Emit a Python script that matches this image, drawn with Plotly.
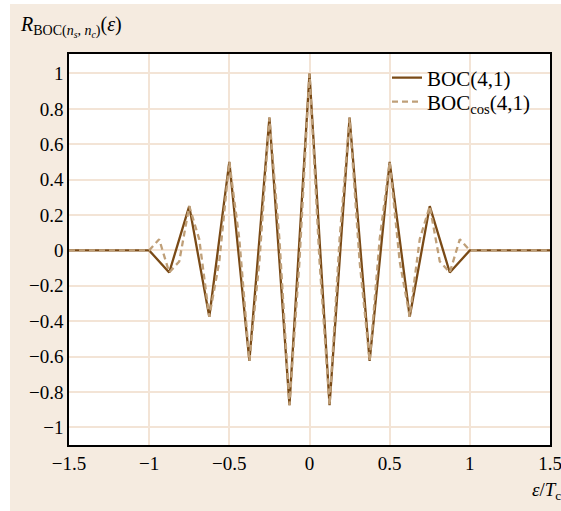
import plotly.graph_objects as go

# BOC(4,1) sine-phased autocorrelation (vertices)
boc_x = [-1.5, -1.0, -0.875, -0.75, -0.625, -0.5, -0.375, -0.25, -0.125, 0.0,
         0.125, 0.25, 0.375, 0.5, 0.625, 0.75, 0.875, 1.0, 1.5]
boc_y = [0.0, 0.0, -0.125, 0.25, -0.375, 0.5, -0.625, 0.75, -0.875, 1.0,
         -0.875, 0.75, -0.625, 0.5, -0.375, 0.25, -0.125, 0.0, 0.0]

# BOCcos(4,1) autocorrelation (vertices)
bcos_x = [-1.5, -1.0, -0.9375, -0.875, -0.8125, -0.75, -0.6875, -0.625, -0.5625,
          -0.5, -0.4375, -0.375, -0.3125, -0.25, -0.1875, -0.125, -0.0625, 0.0,
          0.0625, 0.125, 0.1875, 0.25, 0.3125, 0.375, 0.4375, 0.5, 0.5625,
          0.625, 0.6875, 0.75, 0.8125, 0.875, 0.9375, 1.0, 1.5]
bcos_y = [0.0, 0.0, 0.0625, -0.125, -0.0625, 0.25, 0.0625, -0.375, -0.0625,
          0.5, 0.0625, -0.625, -0.0625, 0.75, 0.0625, -0.875, -0.0625, 1.0,
          -0.0625, -0.875, 0.0625, 0.75, -0.0625, -0.625, 0.0625, 0.5, -0.0625,
          -0.375, 0.0625, 0.25, -0.0625, -0.125, 0.0625, 0.0, 0.0]

x_ticks = [-1.5, -1, -0.5, 0, 0.5, 1, 1.5]
x_labels = ["\u22121.5", "\u22121", "\u22120.5", "0", "0.5", "1", "1.5"]
y_ticks = [1, 0.8, 0.6, 0.4, 0.2, 0, -0.2, -0.4, -0.6, -0.8, -1]
y_labels = ["1", "0.8", "0.6", "0.4", "0.2", "0", "\u22120.2", "\u22120.4",
            "\u22120.6", "\u22120.8", "\u22121"]

SOLID = "#7a4a16"
DASH = "#bf9f78"
BEIGE = "#f5ebe0"
GRID = "#f3e4d6"
FONT = "Liberation Serif"

fig = go.Figure()
fig.add_trace(go.Scatter(x=boc_x, y=boc_y, mode="lines", name="BOC(4,1)",
                         legend="legend",
                         line=dict(color=SOLID, width=2.3)))
fig.add_trace(go.Scatter(x=bcos_x, y=bcos_y, mode="lines",
                         name="BOC<sub>cos</sub>(4,1)", legend="legend2",
                         line=dict(color=DASH, width=2.3, dash="6px,4px")))

W, H = 561, 511
L, R, T, B = 69, 11, 54, 66
pw, ph = W - L - R, H - T - B

def px(xp):
    return (xp - L) / pw

def py(yp):
    return (H - B - yp) / ph

leg_common = dict(xanchor="left", yanchor="middle", bgcolor="rgba(0,0,0,0)",
                  font=dict(family=FONT, size=21), itemwidth=30)

fig.update_layout(
    width=W, height=H, autosize=False,
    margin=dict(l=L, r=R, t=T, b=B, autoexpand=False),
    paper_bgcolor="white",
    plot_bgcolor="white",
    font=dict(family=FONT, size=19, color="black"),
    showlegend=True,
    legend=dict(x=px(387), y=py(78), **leg_common),
    legend2=dict(x=px(387), y=py(102), **leg_common),
    shapes=[
        dict(type="rect", xref="paper", yref="paper", layer="below",
             x0=px(10), x1=px(W + 5), y0=py(H + 5), y1=py(4),
             fillcolor=BEIGE, line=dict(width=0)),
        dict(type="rect", xref="paper", yref="paper", layer="below",
             x0=0, x1=1, y0=0, y1=1, fillcolor="white", line=dict(width=0)),
    ],
    annotations=[
        dict(xref="paper", yref="paper", x=px(18), y=py(26), xanchor="left",
             yanchor="middle", showarrow=False,
             text="<i>R</i><sub>BOC(<i>n<sub>s</sub></i>, <i>n<sub>c</sub></i>)</sub>(<i>\u03b5</i>)",
             font=dict(family=FONT, size=20)),
        dict(xref="paper", yref="paper", x=px(563), y=py(491), xanchor="right",
             yanchor="middle", showarrow=False,
             text="<i>\u03b5</i>/<i>T</i><sub>c</sub>",
             font=dict(family=FONT, size=19)),
    ],
)
fig.update_xaxes(range=[-1.5, 1.5], tickvals=x_ticks, ticktext=x_labels,
                 showgrid=True, gridcolor=GRID, gridwidth=1.5, automargin=False,
                 ticklabeloverflow="allow",
                 zeroline=False, showline=True, linecolor="black", linewidth=1.5,
                 mirror=True, ticks="", ticklen=0)
fig.update_yaxes(range=[-1.1, 1.11], tickvals=y_ticks, ticktext=y_labels,
                 showgrid=True, gridcolor=GRID, gridwidth=1.5, automargin=False,
                 ticklabeloverflow="allow",
                 zeroline=False, showline=True, linecolor="black", linewidth=1.5,
                 mirror=True, ticks="", ticklen=0)

fig.write_html("out.html",
               config={"displayModeBar": False, "responsive": False},
               default_width="561px", default_height="511px",
               post_script="document.documentElement.style.overflow='hidden';"
                           "document.body.style.overflow='hidden';"
                           "document.body.style.margin='0';"
                           "document.body.style.padding='0';")
